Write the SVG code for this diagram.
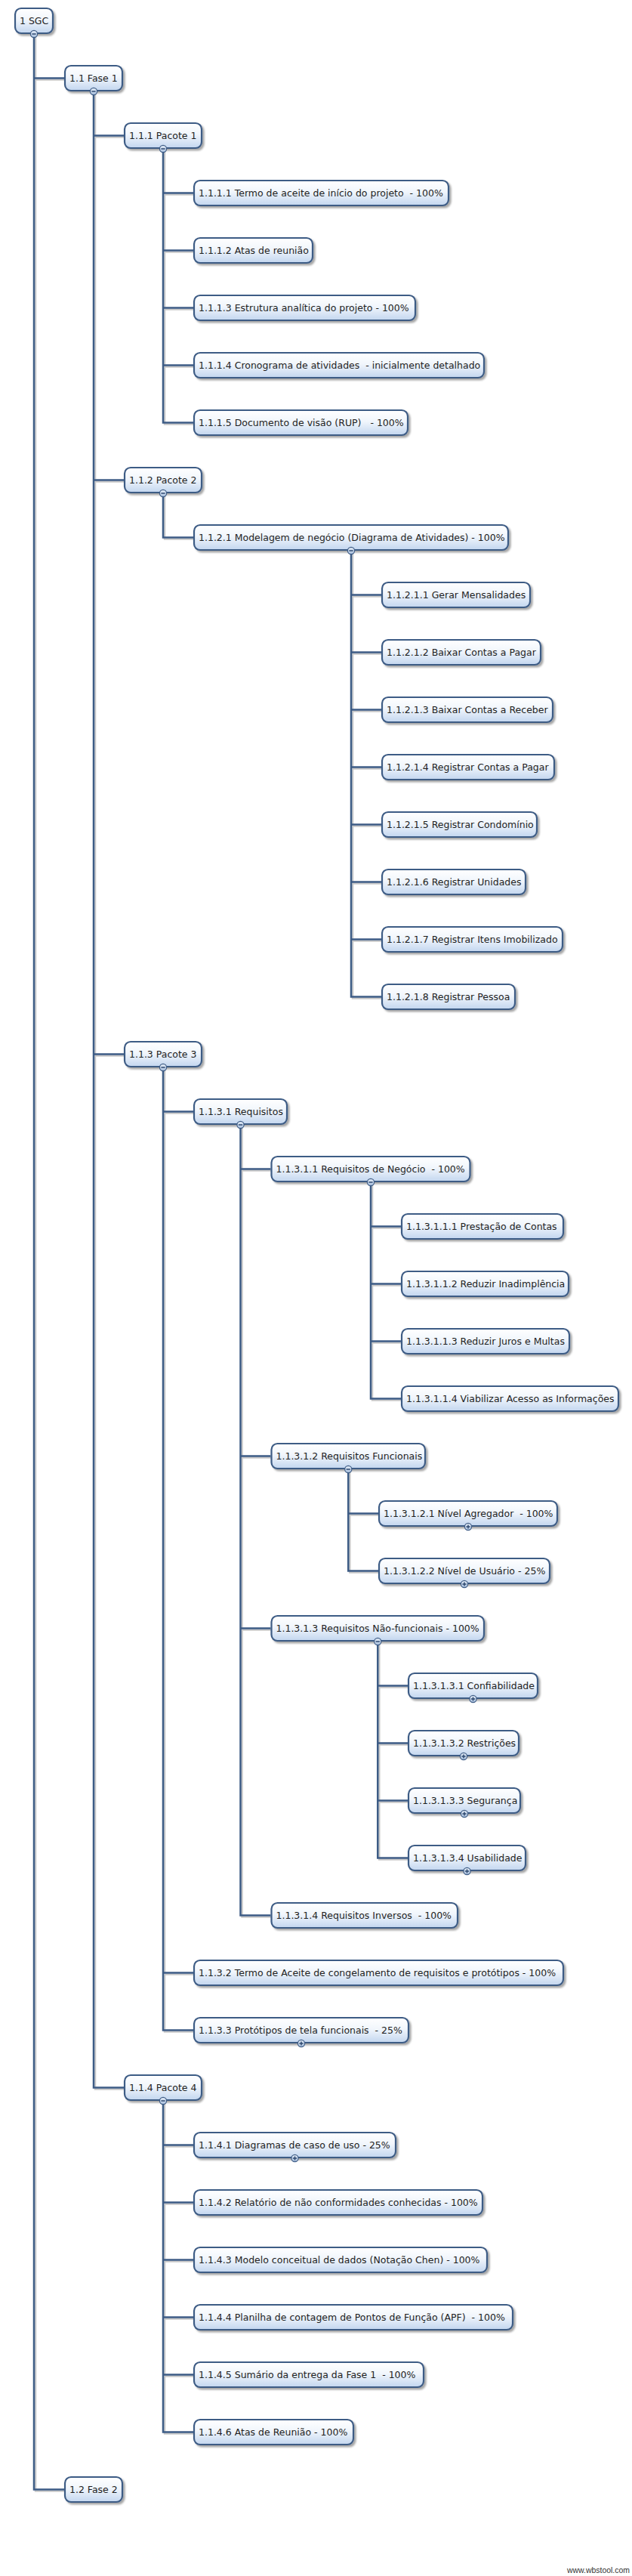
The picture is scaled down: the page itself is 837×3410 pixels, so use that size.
<svg xmlns="http://www.w3.org/2000/svg" width="837" height="3410" viewBox="0 0 837 3410" xml:space="preserve">
<defs>
<linearGradient id="g" x1="0" y1="0" x2="0" y2="1">
<stop offset="0" stop-color="#ffffff"/>
<stop offset="0.45" stop-color="#f1f6fc"/>
<stop offset="1" stop-color="#c3d6ef"/>
</linearGradient>
<linearGradient id="dg" x1="0" y1="0" x2="0" y2="1">
<stop offset="0" stop-color="#e6eef8"/>
<stop offset="1" stop-color="#a6bedd"/>
</linearGradient>
<filter id="sh" x="-10%" y="-20%" width="130%" height="160%">
<feDropShadow dx="2.5" dy="2.5" stdDeviation="1.2" flood-color="#000" flood-opacity="0.35"/>
</filter>
<filter id="lsh" x="-5%" y="-1%" width="110%" height="102%">
<feDropShadow dx="2" dy="2" stdDeviation="0.7" flood-color="#000" flood-opacity="0.22"/>
</filter>
<g id="minus"><circle r="4.6" class="dot"/><path d="M-2.6 0H2.6" class="sign"/></g>
<g id="plus"><circle r="4.6" class="dot"/><path d="M-2.6 0H2.6M0 -2.6V2.6" class="sign"/></g>
</defs>
<style>
.node rect { fill: url(#g); stroke: #3e5c85; stroke-width: 2.2; filter: url(#sh); }
.node text { font-family: "DejaVu Sans", Verdana, sans-serif; font-size: 12.5px; fill: #1e1e1e; white-space: pre; }
.con { fill: none; stroke: #3e5c85; stroke-width: 2.5; stroke-linejoin: miter; stroke-linecap: butt; }
.dot { fill: url(#dg); stroke: #3e5c85; stroke-width: 1.2; }
.sign { fill: none; stroke: #2f4a70; stroke-width: 1.5; }
.wm { font-family: "Liberation Sans", Arial, sans-serif; font-size: 11px; fill: #333; }
</style>
<rect width="837" height="3410" fill="#ffffff"/>
<g id="connectors" filter="url(#lsh)">
<path class="con" d="M45 45V3295.5H85M45 103.5H85"/>
<path class="con" d="M124 121V2763.5H164M124 179.5H164M124 635.5H164M124 1395.5H164"/>
<path class="con" d="M216 197V559.5H256M216 255.5H256M216 331.5H256M216 407.5H256M216 483.5H256"/>
<path class="con" d="M216 653V711.5H256"/>
<path class="con" d="M465 729V1319.5H505M465 787.5H505M465 863.5H505M465 939.5H505M465 1015.5H505M465 1091.5H505M465 1167.5H505M465 1243.5H505"/>
<path class="con" d="M216 1413V2687.5H256M216 1471.5H256M216 2611.5H256"/>
<path class="con" d="M318.5 1489V2535.5H358.5M318.5 1547.5H358.5M318.5 1927.5H358.5M318.5 2155.5H358.5"/>
<path class="con" d="M491 1565V1851.5H531M491 1623.5H531M491 1699.5H531M491 1775.5H531"/>
<path class="con" d="M461.25 1945V2079.5H501M461.25 2003.5H501"/>
<path class="con" d="M500.25 2173V2459.5H540M500.25 2231.5H540M500.25 2307.5H540M500.25 2383.5H540"/>
<path class="con" d="M216 2781V3219.5H256M216 2839.5H256M216 2915.5H256M216 2991.5H256M216 3067.5H256M216 3143.5H256"/>
</g>
<g id="node-1" class="node"><rect x="20" y="11" width="50" height="33" rx="8"/><text x="26" y="32">1 SGC</text><use href="#minus" x="45" y="45"/></g>
<g id="node-1-1" class="node"><rect x="86" y="87" width="76" height="33" rx="8"/><text x="92" y="108">1.1 Fase 1</text><use href="#minus" x="124" y="121"/></g>
<g id="node-1-1-1" class="node"><rect x="165" y="163" width="102" height="33" rx="8"/><text x="171" y="184">1.1.1 Pacote 1</text><use href="#minus" x="216" y="197"/></g>
<g id="node-1-1-1-1" class="node"><rect x="257" y="239" width="337" height="33" rx="8"/><text x="263" y="260">1.1.1.1 Termo de aceite de início do projeto  - 100%</text></g>
<g id="node-1-1-1-2" class="node"><rect x="257" y="315" width="157" height="33" rx="8"/><text x="263" y="336">1.1.1.2 Atas de reunião</text></g>
<g id="node-1-1-1-3" class="node"><rect x="257" y="391" width="293" height="33" rx="8"/><text x="263" y="412">1.1.1.3 Estrutura analítica do projeto - 100%</text></g>
<g id="node-1-1-1-4" class="node"><rect x="257" y="467" width="384" height="33" rx="8"/><text x="263" y="488">1.1.1.4 Cronograma de atividades  - inicialmente detalhado</text></g>
<g id="node-1-1-1-5" class="node"><rect x="257" y="543" width="283" height="33" rx="8"/><text x="263" y="564">1.1.1.5 Documento de visão (RUP)   - 100%</text></g>
<g id="node-1-1-2" class="node"><rect x="165" y="619" width="102" height="33" rx="8"/><text x="171" y="640">1.1.2 Pacote 2</text><use href="#minus" x="216" y="653"/></g>
<g id="node-1-1-2-1" class="node"><rect x="257" y="695" width="416" height="33" rx="8"/><text x="263" y="716">1.1.2.1 Modelagem de negócio (Diagrama de Atividades) - 100%</text><use href="#minus" x="465" y="729"/></g>
<g id="node-1-1-2-1-1" class="node"><rect x="506" y="771" width="196" height="33" rx="8"/><text x="512" y="792">1.1.2.1.1 Gerar Mensalidades</text></g>
<g id="node-1-1-2-1-2" class="node"><rect x="506" y="847" width="210" height="33" rx="8"/><text x="512" y="868">1.1.2.1.2 Baixar Contas a Pagar</text></g>
<g id="node-1-1-2-1-3" class="node"><rect x="506" y="923" width="226" height="33" rx="8"/><text x="512" y="944">1.1.2.1.3 Baixar Contas a Receber</text></g>
<g id="node-1-1-2-1-4" class="node"><rect x="506" y="999" width="228" height="33" rx="8"/><text x="512" y="1020">1.1.2.1.4 Registrar Contas a Pagar</text></g>
<g id="node-1-1-2-1-5" class="node"><rect x="506" y="1075" width="205" height="33" rx="8"/><text x="512" y="1096">1.1.2.1.5 Registrar Condomínio</text></g>
<g id="node-1-1-2-1-6" class="node"><rect x="506" y="1151" width="190" height="33" rx="8"/><text x="512" y="1172">1.1.2.1.6 Registrar Unidades</text></g>
<g id="node-1-1-2-1-7" class="node"><rect x="506" y="1227" width="239" height="33" rx="8"/><text x="512" y="1248">1.1.2.1.7 Registrar Itens Imobilizado</text></g>
<g id="node-1-1-2-1-8" class="node"><rect x="506" y="1303" width="176" height="33" rx="8"/><text x="512" y="1324">1.1.2.1.8 Registrar Pessoa</text></g>
<g id="node-1-1-3" class="node"><rect x="165" y="1379" width="102" height="33" rx="8"/><text x="171" y="1400">1.1.3 Pacote 3</text><use href="#minus" x="216" y="1413"/></g>
<g id="node-1-1-3-1" class="node"><rect x="257" y="1455" width="123" height="33" rx="8"/><text x="263" y="1476">1.1.3.1 Requisitos</text><use href="#minus" x="318.5" y="1489"/></g>
<g id="node-1-1-3-1-1" class="node"><rect x="359.5" y="1531" width="263" height="33" rx="8"/><text x="365.5" y="1552">1.1.3.1.1 Requisitos de Negócio  - 100%</text><use href="#minus" x="491" y="1565"/></g>
<g id="node-1-1-3-1-1-1" class="node"><rect x="532" y="1607" width="214" height="33" rx="8"/><text x="538" y="1628">1.1.3.1.1.1 Prestação de Contas</text></g>
<g id="node-1-1-3-1-1-2" class="node"><rect x="532" y="1683" width="221" height="33" rx="8"/><text x="538" y="1704">1.1.3.1.1.2 Reduzir Inadimplência</text></g>
<g id="node-1-1-3-1-1-3" class="node"><rect x="532" y="1759" width="222" height="33" rx="8"/><text x="538" y="1780">1.1.3.1.1.3 Reduzir Juros e Multas</text></g>
<g id="node-1-1-3-1-1-4" class="node"><rect x="532" y="1835" width="287" height="33" rx="8"/><text x="538" y="1856">1.1.3.1.1.4 Viabilizar Acesso as Informações</text></g>
<g id="node-1-1-3-1-2" class="node"><rect x="359.5" y="1911" width="203.5" height="33" rx="8"/><text x="365.5" y="1932">1.1.3.1.2 Requisitos Funcionais</text><use href="#minus" x="461.25" y="1945"/></g>
<g id="node-1-1-3-1-2-1" class="node"><rect x="502" y="1987" width="236" height="33" rx="8"/><text x="508" y="2008">1.1.3.1.2.1 Nível Agregador  - 100%</text><use href="#plus" x="620" y="2021"/></g>
<g id="node-1-1-3-1-2-2" class="node"><rect x="502" y="2063" width="226" height="33" rx="8"/><text x="508" y="2084">1.1.3.1.2.2 Nível de Usuário - 25%</text><use href="#plus" x="615" y="2097"/></g>
<g id="node-1-1-3-1-3" class="node"><rect x="359.5" y="2139" width="281.5" height="33" rx="8"/><text x="365.5" y="2160">1.1.3.1.3 Requisitos Não-funcionais - 100%</text><use href="#minus" x="500.25" y="2173"/></g>
<g id="node-1-1-3-1-3-1" class="node"><rect x="541" y="2215" width="171" height="33" rx="8"/><text x="547" y="2236">1.1.3.1.3.1 Confiabilidade</text><use href="#plus" x="626.5" y="2249"/></g>
<g id="node-1-1-3-1-3-2" class="node"><rect x="541" y="2291" width="146" height="33" rx="8"/><text x="547" y="2312">1.1.3.1.3.2 Restrições</text><use href="#plus" x="614" y="2325"/></g>
<g id="node-1-1-3-1-3-3" class="node"><rect x="541" y="2367" width="148" height="33" rx="8"/><text x="547" y="2388">1.1.3.1.3.3 Segurança</text><use href="#plus" x="615" y="2401"/></g>
<g id="node-1-1-3-1-3-4" class="node"><rect x="541" y="2443" width="155" height="33" rx="8"/><text x="547" y="2464">1.1.3.1.3.4 Usabilidade</text><use href="#plus" x="618.5" y="2477"/></g>
<g id="node-1-1-3-1-4" class="node"><rect x="359.5" y="2519" width="246.5" height="33" rx="8"/><text x="365.5" y="2540">1.1.3.1.4 Requisitos Inversos  - 100%</text></g>
<g id="node-1-1-3-2" class="node"><rect x="257" y="2595" width="489" height="33" rx="8"/><text x="263" y="2616">1.1.3.2 Termo de Aceite de congelamento de requisitos e protótipos - 100%</text></g>
<g id="node-1-1-3-3" class="node"><rect x="257" y="2671" width="284" height="33" rx="8"/><text x="263" y="2692">1.1.3.3 Protótipos de tela funcionais  - 25%</text><use href="#plus" x="399" y="2705"/></g>
<g id="node-1-1-4" class="node"><rect x="165" y="2747" width="102" height="33" rx="8"/><text x="171" y="2768">1.1.4 Pacote 4</text><use href="#minus" x="216" y="2781"/></g>
<g id="node-1-1-4-1" class="node"><rect x="257" y="2823" width="267" height="33" rx="8"/><text x="263" y="2844">1.1.4.1 Diagramas de caso de uso - 25%</text><use href="#plus" x="390.5" y="2857"/></g>
<g id="node-1-1-4-2" class="node"><rect x="257" y="2899" width="382" height="33" rx="8"/><text x="263" y="2920">1.1.4.2 Relatório de não conformidades conhecidas - 100%</text></g>
<g id="node-1-1-4-3" class="node"><rect x="257" y="2975" width="388" height="33" rx="8"/><text x="263" y="2996">1.1.4.3 Modelo conceitual de dados (Notação Chen) - 100%</text></g>
<g id="node-1-1-4-4" class="node"><rect x="257" y="3051" width="422" height="33" rx="8"/><text x="263" y="3072">1.1.4.4 Planilha de contagem de Pontos de Função (APF)  - 100%</text></g>
<g id="node-1-1-4-5" class="node"><rect x="257" y="3127" width="304" height="33" rx="8"/><text x="263" y="3148">1.1.4.5 Sumário da entrega da Fase 1  - 100%</text></g>
<g id="node-1-1-4-6" class="node"><rect x="257" y="3203" width="211" height="33" rx="8"/><text x="263" y="3224">1.1.4.6 Atas de Reunião - 100%</text></g>
<g id="node-1-2" class="node"><rect x="86" y="3279" width="76" height="33" rx="8"/><text x="92" y="3300">1.2 Fase 2</text></g>
<text class="wm" x="751" y="3406" textLength="83" lengthAdjust="spacingAndGlyphs">www.wbstool.com</text>
</svg>
